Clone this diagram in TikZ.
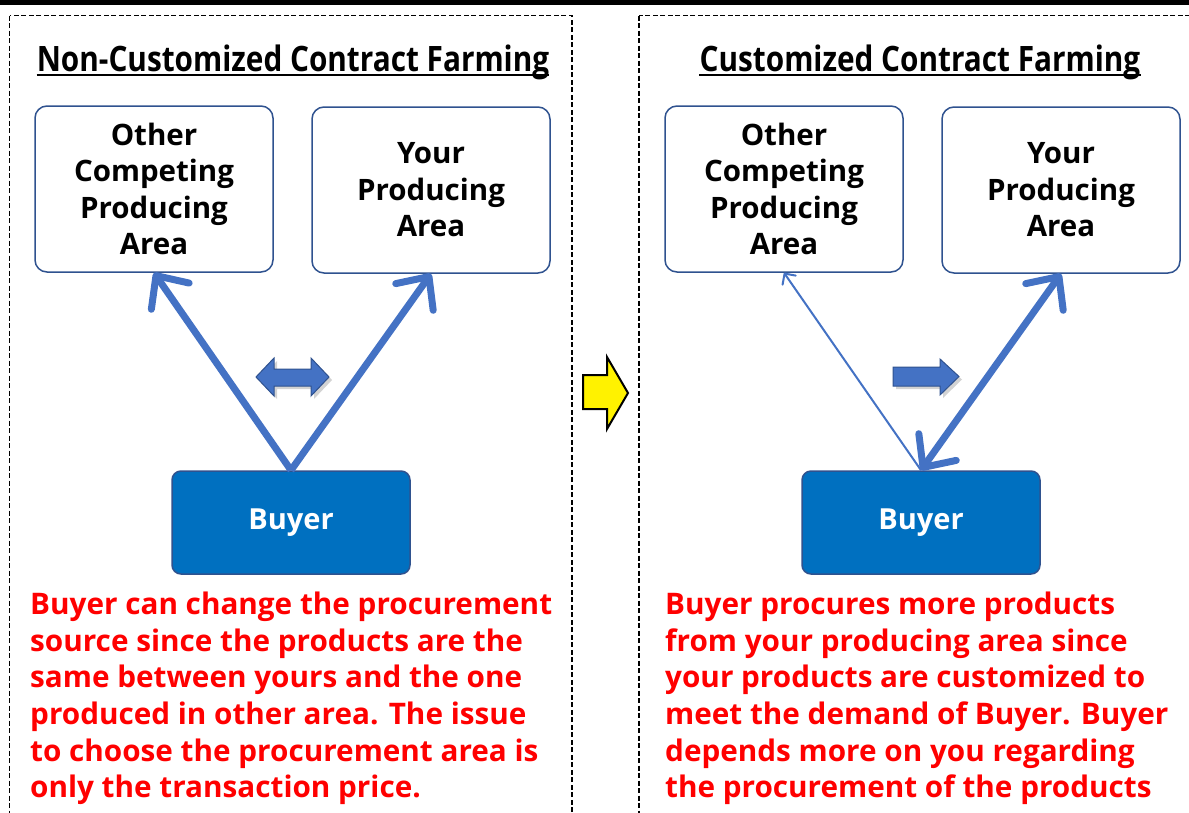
\documentclass[tikz,border=0pt]{standalone}
\usepackage{fontspec}
\setmainfont{Open Sans}
\newfontfamily\titlefont[FakeStretch=0.85]{Open Sans}
\usetikzlibrary{arrows.meta,shadows}
\definecolor{arrowblue}{HTML}{4472C4}
\definecolor{boxborder}{HTML}{2F528F}
\definecolor{buyerfill}{HTML}{0070C0}
\definecolor{txtred}{HTML}{FF0000}
\begin{document}
\begin{tikzpicture}[x=1pt,y=-1pt,
  area/.style={draw=boxborder, line width=1.5pt, rounded corners=12pt, fill=white,
    minimum width=238pt, minimum height=166pt, align=center, inner sep=0pt,
    font=\fontsize{29.5}{36.5}\selectfont\bfseries},
  buyerbox/.style={draw=boxborder, line width=1.5pt, fill=buyerfill, rounded corners=9pt,
    minimum width=238pt, minimum height=103pt, text=white,
    font=\fontsize{29}{34}\selectfont\bfseries},
  panel/.style={draw=black, dash pattern=on 5pt off 2.5pt, line width=1.8pt},
  titletext/.style={font=\titlefont\fontsize{35}{40}\selectfont\bfseries, inner sep=0pt},
  redtext/.style={text=txtred, align=left, inner sep=0pt, anchor=north west,
    font=\fontsize{29.7}{36.6}\selectfont\bfseries},
  thick conn/.style={draw=arrowblue, line width=7pt},
  thin conn/.style={draw=arrowblue, line width=2pt},
  bighead/.style={Straight Barb[length=25pt,width=46pt,round]},
  blockarrow/.style={fill=arrowblue, draw=boxborder, line width=1pt,
    drop shadow={opacity=0.35, shadow xshift=3pt, shadow yshift=-3pt}},
]
\useasboundingbox (0,0) rectangle (1189,812);
% top bar
\fill[black] (0,0) rectangle (1189,5);
% panels
\draw[panel] (9.5,15.5) rectangle (572,830);
\draw[panel] (639,15.5) rectangle (1210,830);

% titles
\node[titletext] (t1) at (293,62) {Non-Customized Contract Farming};
\draw[line width=2pt] ([yshift=-4pt]t1.base west) -- ([yshift=-4pt]t1.base east);
\node[titletext] (t2) at (920,62) {Customized Contract Farming};
\draw[line width=2pt] ([yshift=-4pt]t2.base west) -- ([yshift=-4pt]t2.base east);

% left panel
\node[area] (o1) at (154,189) {Other\\Competing\\Producing\\Area};
\node[area] (y1) at (431,190) {Your\\Producing\\Area};
\node[buyerbox] (b1) at (291,522.5) {Buyer};
\draw[thick conn, -{Straight Barb[length=25pt,width=46pt,round]}] (b1.north) -- (o1.south);
\draw[thick conn, -{Straight Barb[length=25pt,width=46pt,round]}] (b1.north) -- (y1.south);
\filldraw[blockarrow] (256,377) -- (274,358) -- (274,369) -- (311,369) -- (311,358)
  -- (329,377) -- (311,396) -- (311,386) -- (274,386) -- (274,396) -- cycle;
\node[redtext] (r1) at (30,592) {Buyer can change the procurement\\source since the products are the\\same between yours and the one\\produced in other area. The issue\\to choose the procurement area is\\only the transaction price.};

% middle arrow
\filldraw[fill=yellow, draw=black, line width=2pt, line join=miter] (583,375) -- (607,375) -- (607,357)
  -- (628,393) -- (607,429) -- (607,409) -- (583,409) -- cycle;

% right panel
\node[area] (o2) at (784,189) {Other\\Competing\\Producing\\Area};
\node[area] (y2) at (1061,190) {Your\\Producing\\Area};
\node[buyerbox] (b2) at (921,522.5) {Buyer};
\draw[thin conn, -{Straight Barb[length=8pt,width=16pt,round]}] (b2.north) -- (o2.south);
\draw[thick conn, {Straight Barb[length=25pt,width=46pt,round]}-{Straight Barb[length=25pt,width=46pt,round]}] (b2.north) -- (y2.south);
\filldraw[blockarrow] (893,367) -- (940,367) -- (940,359) -- (959,376.5) -- (940,395)
  -- (940,386) -- (893,386) -- cycle;
\node[redtext] (r2) at (665,592) {Buyer procures more products\\from your producing area since\\your products are customized to\\meet the demand of Buyer. Buyer\\depends more on you regarding\\the procurement of the products};
\end{tikzpicture}
\end{document}
